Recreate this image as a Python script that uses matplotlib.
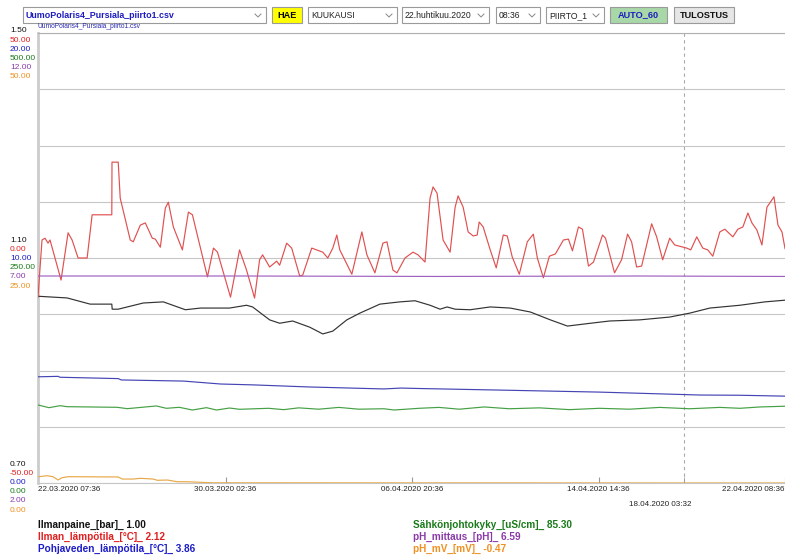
import pandas as pd
import matplotlib.pyplot as plt
from matplotlib.patches import Rectangle
from matplotlib.lines import Line2D

plt.rcParams['font.family'] = ['Liberation Sans', 'DejaVu Sans']

# Aikaväli
t0 = pd.Timestamp('2020-03-22 07:36')
t_end = pd.Timestamp('2020-04-22 08:36')
t_cursor = pd.Timestamp('2020-04-18 03:32')
tick_times = ['2020-03-22 07:36', '2020-03-30 02:36', '2020-04-06 20:36',
              '2020-04-14 14:36', '2020-04-22 08:36']

# Ilmanpaine [bar] (tunnit alusta)
paine_h = [0, 29, 52, 73.6, 74, 80, 105, 125, 147, 162, 191, 208, 214, 231, 241, 254,
           271, 284, 294, 308, 321, 341, 361, 376, 391, 401, 408, 416, 431, 451, 471,
           491, 511, 528, 551, 570, 600, 630, 650, 670, 700, 725, 745]
paine = [1.032, 1.029, 1.018, 1.018, 1.009, 1.009, 1.020, 1.022, 1.008, 1.011, 1.011,
         1.016, 1.013, 0.990, 0.984, 0.988, 0.977, 0.965, 0.970, 0.990, 1.002, 1.018,
         1.022, 1.024, 1.016, 1.009, 1.013, 1.009, 1.008, 1.013, 1.011, 1.004, 0.990,
         0.979, 0.984, 0.988, 0.990, 0.995, 1.002, 1.011, 1.016, 1.022, 1.025]

# Ilman lämpötila [°C]
ilma_h = [0, 4, 7, 10, 12, 23, 30, 34, 40, 49, 54, 73.6, 73.8, 80, 82, 92, 95, 102, 107,
          114, 117, 122, 127, 130, 135, 144, 150, 154, 169, 175, 179, 192, 201, 208, 216,
          221, 224, 231, 238, 241, 248, 253, 261, 264, 273, 278, 284, 289, 294, 298, 301,
          313, 318, 323, 328, 336, 344, 348, 354, 358, 366, 374, 379, 386, 391, 394, 398,
          404, 411, 416, 419, 424, 429, 434, 438, 440, 444, 451, 457, 464, 468, 473, 480,
          488, 494, 498, 504, 510, 516, 524, 529, 533, 539, 543, 549, 554, 563, 566, 575,
          582, 588, 592, 597, 602, 612, 617, 623, 630, 635, 647, 651, 657, 663, 668, 673,
          680, 685, 693, 698, 703, 708, 712, 717, 722, 727, 734, 738, 742, 745]
ilma = [-8.7, 4.0, 4.4, 3.3, 4.0, -4.9, 5.6, 4.0, 0.0, 0.0, 9.6, 9.6, 21.3, 21.3, 13.3,
        4.0, 3.6, 7.3, 7.8, 4.4, 4.2, 2.4, 11.1, 12.4, 6.9, 1.8, 10.2, 9.6, -4.2, 2.2,
        1.3, -8.7, 1.8, -2.7, -8.9, -0.4, 0.7, -2.0, -0.7, -1.6, 3.3, 2.2, -4.0, -3.8,
        2.2, 1.8, 1.3, 0.0, 2.2, 5.1, 1.8, -3.6, 1.1, 5.8, 0.7, -3.3, 3.3, 3.6, -2.7,
        -3.3, 0.0, 1.3, 0.7, -0.9, 13.3, 15.8, 14.4, 4.0, 1.3, 11.3, 13.8, 11.3, 5.8, 4.9,
        5.1, 8.0, 6.9, 1.8, -2.2, 5.1, 4.9, 0.2, -3.6, 3.6, 5.3, 0.0, -4.4, 0.4, 0.9, 4.0,
        4.2, 1.6, 6.9, 6.4, -1.8, -0.9, 5.1, 4.4, -3.3, -0.4, 5.3, 3.6, -2.0, -1.8, 7.6,
        4.7, -0.4, 4.4, 2.9, 2.2, 1.8, 4.7, 2.2, 1.8, 0.4, 5.8, 6.4, 4.7, 6.4, 6.9, 10.0,
        7.8, 6.2, 2.9, 11.3, 13.6, 7.3, 5.8, 2.1]

# Pohjaveden lämpötila [°C]
pohja_h = [0, 20, 22, 80, 83, 145, 182, 215, 269, 345, 362, 380, 460, 560, 660, 700, 745]
pohja = [4.72, 4.74, 4.70, 4.64, 4.58, 4.53, 4.40, 4.36, 4.27, 4.18, 4.22, 4.20, 4.13,
         4.04, 3.91, 3.90, 3.86]

# Sähkönjohtokyky [uS/cm]
sahko_h = [0, 11, 22, 29, 79, 89, 118, 128, 141, 154, 168, 178, 191, 201, 230, 245, 260,
           280, 300, 320, 345, 355, 380, 400, 420, 445, 470, 500, 530, 560, 590, 620, 650,
           680, 700, 720, 745]
sahko = [86.7, 83.7, 85.9, 84.8, 84.1, 82.6, 85.6, 83.0, 84.1, 81.1, 83.7, 81.1, 83.3,
         81.9, 83.0, 81.5, 83.5, 82.0, 84.0, 82.0, 82.5, 81.1, 83.0, 84.0, 82.0, 84.5,
         82.5, 83.5, 81.5, 83.0, 82.0, 84.0, 82.5, 84.0, 83.0, 84.5, 85.3]

# pH
ph_h = [0, 200, 400, 600, 745]
ph = [6.60, 6.60, 6.59, 6.60, 6.59]

# pH mV
mv_h = [1, 9, 15, 20, 24, 30, 80, 84, 95, 102, 115, 119, 129, 139, 149, 161, 175, 745]
mv = [0.70, 0.81, 0.70, 0.33, 0.59, 0.70, 0.67, 0.44, 0.44, 0.52, 0.44, 0.30, 0.33,
      0.14, 0.14, 0.08, 0.02, 0.0]

sarjat = [
    ('Ilmanpaine_[bar]_ 1.00', paine_h, paine, (0.70, 1.50), '#333333', '#111111'),
    ('Ilman_lämpötila_[°C]_ 2.12', ilma_h, ilma, (-50, 50), '#e05050', '#e02020'),
    ('Pohjaveden_lämpötila_[°C]_ 3.86', pohja_h, pohja, (0, 20), '#4444b4', '#1c1cc8'),
    ('Sähkönjohtokyky_[uS/cm]_ 85.30', sahko_h, sahko, (0, 500), '#44a044', '#1a7a1a'),
    ('pH_mittaus_[pH]_ 6.59', ph_h, ph, (2, 12), '#a060c0', '#8a3aa8'),
    ('pH_mV_[mV]_ -0.47', mv_h, mv, (0, 50), '#e8a848', '#f09020'),
]

W, H = 785, 557
fig = plt.figure(figsize=(W / 100, H / 100), dpi=100)
fig.patch.set_facecolor('white')


def fx(x):
    return x / W


def fy(y):
    return 1 - y / H


ax = fig.add_axes([fx(38), fy(483), (785 - 38) / W, 450 / H])
for i, (nimi, hh, vals, lim, col, tcol) in enumerate(sarjat):
    a = ax if i == 0 else ax.twinx()
    t = t0 + pd.to_timedelta(hh, unit='h')
    a.plot(t, vals, color=col, lw=0.85, zorder=3)
    a.set_ylim(*lim)
    a.set_xlim(t0, t_end)
    if i > 0:
        a.set_yticks([])
        for s in a.spines.values():
            s.set_visible(False)

# ruudukko
ax.set_yticks([0.7 + 0.1 * k for k in range(9)])
ax.grid(axis='y', color='#c6c6c6', lw=0.8)
ax.tick_params(axis='y', left=False, labelleft=False)
ax.spines['right'].set_visible(False)
ax.spines['left'].set_color('#cccccc')
ax.spines['left'].set_linewidth(2)
ax.spines['top'].set_color('#b0b0b0')
ax.spines['top'].set_linewidth(0.8)
ax.spines['bottom'].set_color('#c6c6c6')
ax.spines['bottom'].set_linewidth(0.8)

ticks = pd.to_datetime(tick_times)
ax.set_xticks(ticks)
ax.set_xticklabels([d.strftime('%d.%m.%Y %H:%M') for d in ticks], fontsize=5.8, color='#222222')
ax.set_xticks([t_cursor], minor=True)
ax.tick_params(axis='x', which='both', direction='in', length=4, color='#999999', pad=2)
labels = ax.get_xticklabels()
labels[0].set_ha('left')
labels[-1].set_ha('right')

ax.axvline(t_cursor, color='#aaaaaa', lw=0.8, ls=(0, (3, 3)), zorder=1)
ax.annotate(t_cursor.strftime('%d.%m.%Y %H:%M'), xy=(t_cursor, 0),
            xycoords=('data', 'axes fraction'), xytext=(8, -21),
            textcoords='offset pixels', ha='right', va='center', fontsize=5.8,
            color='#222222')

# vasemman reunan asteikot
asteikot = [
    ['1.50', '50.00', '20.00', '500.00', '12.00', '50.00'],
    ['1.10', '0.00', '10.00', '250.00', '7.00', '25.00'],
    ['0.70', '-50.00', '0.00', '0.00', '2.00', '0.00'],
]
for y0, rivi in zip([31, 240, 464], asteikot):
    for k, txt in enumerate(rivi):
        fig.text(fx(10), fy(y0 + 9.2 * k), txt, fontsize=6, color=sarjat[k][5],
                 ha='left', va='center')

fig.text(fx(38), fy(27), 'UumoPolaris4_Pursiala_piirto1.csv', fontsize=4.8,
         color='#2a2ab0', ha='left', va='center')

# selite
for k, (nimi, hh, vals, lim, col, tcol) in enumerate(sarjat):
    x0 = 38 if k < 3 else 413
    y0 = 525 + 12 * (k % 3)
    fig.text(fx(x0), fy(y0), nimi, fontsize=7.2, fontweight='bold', color=tcol,
             ha='left', va='center')

# yläpalkin valitsimet ja painikkeet
valinnat = [
    (23, 266, 'UumoPolaris4_Pursiala_piirto1.csv', 'white', '#1c1cc0', 'bold', True, 6.4),
    (272, 302, 'HAE', '#ffff00', '#000000', 'bold', False, 6.6),
    (308, 397, 'KUUKAUSI', 'white', '#222222', 'normal', True, 6.2),
    (402, 489, '22.huhtikuu.2020', 'white', '#222222', 'normal', True, 6.2),
    (496, 540, '08:36', 'white', '#222222', 'normal', True, 6.2),
    (546, 604, 'PIIRTO_1', 'white', '#222222', 'normal', True, 6.2),
    (610, 667, 'AUTO_60', '#a8d8a8', '#1c1cc0', 'bold', False, 6.6),
    (674, 734, 'TULOSTUS', '#e6e6e6', '#111111', 'bold', False, 6.6),
]
for x1, x2, txt, fc, tc, fw, combo, fs in valinnat:
    y1, y2 = 7, 23
    fig.patches.append(Rectangle((fx(x1), fy(y2)), (x2 - x1) / W, (y2 - y1) / H,
                                 transform=fig.transFigure, facecolor=fc,
                                 edgecolor='#9a9a9a', lw=0.8))
    if combo:
        fig.text(fx(x1 + 3), fy(15.5), txt, fontsize=fs, color=tc, fontweight=fw,
                 ha='left', va='center')
        cx = x2 - 8
        fig.lines.append(Line2D([fx(cx - 3), fx(cx), fx(cx + 3)], [fy(14), fy(17), fy(14)],
                                transform=fig.transFigure, color='#888888', lw=0.7))
    else:
        fig.text(fx((x1 + x2) / 2), fy(15), txt, fontsize=fs, color=tc, fontweight=fw,
                 ha='center', va='center')

plt.savefig('out.png', dpi=100)
